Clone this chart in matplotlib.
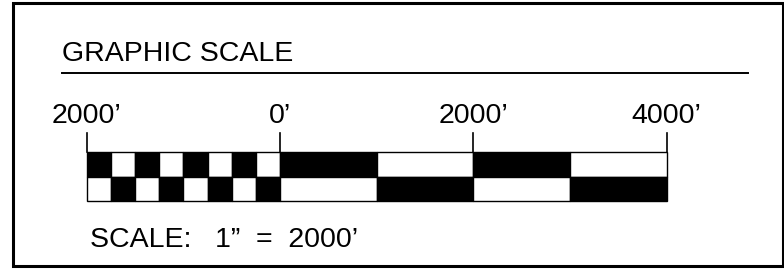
import matplotlib
matplotlib.use('Agg')
import matplotlib.pyplot as plt
from matplotlib.patches import Rectangle

plt.rcParams['font.family'] = ['Liberation Sans', 'DejaVu Sans']

# scale data (feet)
tick_feet = [-2000, 0, 2000, 4000]
tick_labels = ['2000\u2019', '0\u2019', '2000\u2019', '4000\u2019']
fine_step = 250      # checkered part left of zero
coarse_step = 1000   # blocks right of zero
title = 'GRAPHIC SCALE'
scale_note = 'SCALE:   1\u201d  =  2000\u2019'

W, H = 784, 278
fig = plt.figure(figsize=(W / 100, H / 100), dpi=100)
ax = fig.add_axes([0, 0, 1, 1])

# pixel mapping of feet: px = 280.1 + ft * 0.09667
px0, k = 280.1, 0.09667
ax.set_xlim(-px0 / k, (W - px0) / k)
ax.set_ylim(H, 0)
ax.axis('off')

# outer frame (axes fraction = pixel / size)
fig.patches.append(Rectangle((13 / W, 1 - 266 / H), 770 / W, 263 / H,
                             transform=fig.transFigure, fill=False,
                             edgecolor='black', linewidth=2.2))

# title + underline
ax.text((62 - px0) / k, 61, title, fontsize=20.5, va='baseline', ha='left')
ax.plot([(62 - px0) / k, (748 - px0) / k], [73, 73], color='black', lw=1.4)

row_top, row_h = 152, 24.5

# checkered part
n_fine = int((0 - tick_feet[0]) / fine_step)
for i in range(n_fine):
    left = tick_feet[0] + i * fine_step
    c_top = 'black' if i % 2 == 0 else 'white'
    c_bot = 'white' if i % 2 == 0 else 'black'
    ax.bar(left, row_h, width=fine_step, bottom=row_top, align='edge',
           color=c_top, edgecolor='black', linewidth=1)
    ax.bar(left, row_h, width=fine_step, bottom=row_top + row_h, align='edge',
           color=c_bot, edgecolor='black', linewidth=1)

# coarse part
n_coarse = int(tick_feet[-1] / coarse_step)
for i in range(n_coarse):
    left = i * coarse_step
    c_top = 'black' if i % 2 == 0 else 'white'
    c_bot = 'white' if i % 2 == 0 else 'black'
    ax.bar(left, row_h, width=coarse_step, bottom=row_top, align='edge',
           color=c_top, edgecolor='black', linewidth=1)
    ax.bar(left, row_h, width=coarse_step, bottom=row_top + row_h, align='edge',
           color=c_bot, edgecolor='black', linewidth=1)

# tick marks and labels
for ft, lab in zip(tick_feet, tick_labels):
    ax.plot([ft, ft], [133, row_top], color='black', lw=1.2)
    ax.text(ft, 123, lab, fontsize=20.5, ha='center', va='baseline')

ax.text((90 - px0) / k, 247, scale_note, fontsize=20.5, ha='left', va='baseline')

fig.savefig('out.png', dpi=100, facecolor='white')
